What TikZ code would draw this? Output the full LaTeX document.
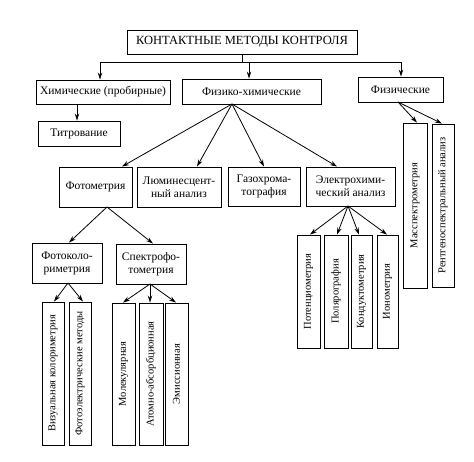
\documentclass[tikz,border=0pt]{standalone}
\usepackage{fontspec}
\setmainfont{Liberation Serif}
\newfontfamily\diagfont{Liberation Serif}
\usetikzlibrary{arrows.meta,calc}
\begin{document}
\begin{tikzpicture}[x=1pt,y=-1pt,
  box/.style={draw, line width=0.9pt, inner sep=0pt, align=center, font=\diagfont\fontsize{11.5}{13}\selectfont},
  vbox/.style={box, rotate=90, font=\diagfont\fontsize{10.5}{12}\selectfont},
  arr/.style={line width=0.8pt, -{Stealth[length=7pt,width=4.5pt]}},
  ln/.style={line width=0.8pt}]
\useasboundingbox (0,0) rectangle (474,461);
% level 0
\node[box, minimum width=230, minimum height=24, font=\diagfont\fontsize{12.5}{14}\selectfont] (top) at (242,42) {КОНТАКТНЫЕ МЕТОДЫ КОНТРОЛЯ};
% level 1
\node[box, minimum width=134, minimum height=24] (chem) at (103,92) {Химические (пробирные)};
\node[box, minimum width=139, minimum height=25] (pc) at (251.5,91.5) {Физико-химические};
\node[box, minimum width=85, minimum height=25] (phys) at (400.5,89.5) {Физические};
% level 2
\node[box, minimum width=82, minimum height=25] (titr) at (79,133.5) {Титрование};
\node[box, minimum width=73, minimum height=40] (photom) at (95.5,187) {Фотометрия};
\node[box, minimum width=84, minimum height=40] (lum) at (179,187) {Люминесцент-\\ный анализ};
\node[box, minimum width=72, minimum height=39] (gaz) at (264,186.5) {Газохрома-\\тография};
\node[box, minimum width=89, minimum height=39] (el) at (350.5,186.5) {Электрохими-\\ческий анализ};
\node[vbox, minimum width=165, minimum height=24] (mass) at (415,205.5) {Масспектрометрия};
\node[vbox, minimum width=163, minimum height=22] (rent) at (443,205.5) {Рентгеноспектральный анализ};
% level 3
\node[box, minimum width=70, minimum height=40] (fcol) at (67,263) {Фотоколо-\\риметрия};
\node[box, minimum width=70, minimum height=40] (spec) at (151,264) {Спектрофо-\\тометрия};
\node[vbox, minimum width=113, minimum height=23] (pot) at (308.5,291.5) {Потенциометрия};
\node[vbox, minimum width=113, minimum height=24] (pol) at (336,291.5) {Полярография};
\node[vbox, minimum width=113, minimum height=21] (kon) at (361.5,291.5) {Кондуктометрия};
\node[vbox, minimum width=113, minimum height=21] (ion) at (387.5,291.5) {Ионометрия};
% level 4
\node[vbox, minimum width=143, minimum height=22] (vis) at (53,373.5) {Визуальная колориметрия};
\node[vbox, minimum width=143, minimum height=22] (fel) at (80,373.5) {Фотоэлектрические методы};
\node[vbox, minimum width=142, minimum height=23] (mol) at (123.5,374) {Молекулярная};
\node[vbox, minimum width=142, minimum height=24] (atom) at (151,374) {Атомно-абсорбционная};
\node[vbox, minimum width=142, minimum height=23] (emi) at (176.5,374) {Эмиссионная};
% connectors
\coordinate (bus) at (242,62);
\draw[ln] (top.south) -- (bus);
\draw[ln] (bus -| 100,0) -- (bus -| 401,0);
\draw[arr] (100,62) -- (chem.north -| 100,0);
\draw[arr] (249,62) -- (pc.north -| 249,0);
\draw[arr] (401,62) -- (phys.north -| 401,0);
\draw[arr] (chem.south -| 77,0) -- (titr.north -| 77,0);
\coordinate (pcf) at (232,104);
\draw[arr] (pcf) -- (photom.north -| 122,0);
\draw[arr] (pcf) -- (lum.north -| 197,0);
\draw[arr] (pcf) -- (gaz.north -| 264,0);
\draw[arr] (pcf) -- (el.north -| 337,0);
\coordinate (phf) at (398,102);
\draw[arr] (phf) -- (mass.east -| 417,0);
\draw[arr] (phf) -- (rent.east -| 442,0);
\coordinate (elf) at (348,206);
\draw[arr] (elf) -- (pot.east -| 310,0);
\draw[arr] (elf) -- (pol.east -| 337,0);
\draw[arr] (elf) -- (kon.east -| 359,0);
\draw[arr] (elf) -- (ion.east -| 387,0);
\coordinate (phmf) at (107,207);
\draw[arr] (phmf) -- (fcol.north -| 69,0);
\draw[arr] (phmf) -- (spec.north -| 153,0);
\coordinate (fcf) at (68,283);
\draw[arr] (fcf) -- (vis.east -| 54,0);
\draw[arr] (fcf) -- (fel.east -| 83,0);
\coordinate (spf) at (150,284);
\draw[arr] (spf) -- (mol.east -| 123,0);
\draw[arr] (spf) -- (atom.east -| 150,0);
\draw[arr] (spf) -- (emi.east -| 176,0);
\end{tikzpicture}
\end{document}
